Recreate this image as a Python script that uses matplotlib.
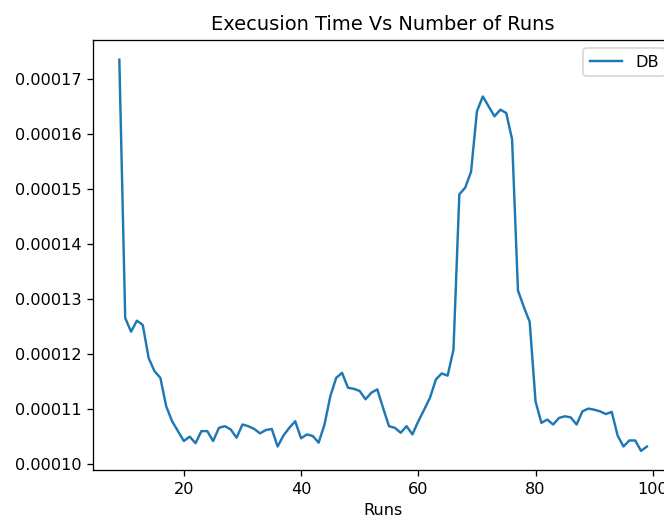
#!/usr/bin/env python3

import numpy as np
import matplotlib
matplotlib.use("Agg")
import matplotlib.pyplot as plt

# number of runs on the x axis
runs = list(range(9, 100))

# execution time (seconds) for each run count
db_times = [
    0.0001736, 0.0001266, 0.0001241, 0.0001261, 0.0001253, 0.0001193, 0.0001169,
    0.0001157, 0.0001105, 0.0001078, 0.0001060, 0.0001042, 0.0001050, 0.0001038,
    0.0001060, 0.0001060, 0.0001042, 0.0001066, 0.0001069, 0.0001063, 0.0001048,
    0.0001072, 0.0001069, 0.0001064, 0.0001056, 0.0001062, 0.0001064, 0.0001032,
    0.0001052, 0.0001066, 0.0001078, 0.0001047, 0.0001054, 0.0001051, 0.0001039,
    0.0001072, 0.0001124, 0.0001157, 0.0001166, 0.0001139, 0.0001137, 0.0001133,
    0.0001118, 0.0001130, 0.0001136, 0.0001102, 0.0001069, 0.0001066, 0.0001057,
    0.0001069, 0.0001054, 0.0001078, 0.0001099, 0.0001121, 0.0001154, 0.0001165,
    0.0001161, 0.0001208, 0.0001491, 0.0001503, 0.0001532, 0.0001642, 0.0001669,
    0.0001651, 0.0001633, 0.0001645, 0.0001639, 0.0001591, 0.0001316, 0.0001286,
    0.0001259, 0.0001114, 0.0001075, 0.0001081, 0.0001072, 0.0001084, 0.0001087,
    0.0001085, 0.0001072, 0.0001096, 0.0001101, 0.0001099, 0.0001096, 0.0001091,
    0.0001095, 0.0001052, 0.0001032, 0.0001043, 0.0001043, 0.0001024, 0.0001032,
]

dpi = 116.5
fig = plt.figure(figsize=(664 / dpi, 521 / dpi), dpi=dpi)
# the plot area runs a little past the right edge of the saved image
ax = fig.add_axes([0.140, 0.097, 0.874, 0.826])

ax.plot(runs, db_times, color="#1f77b4", label="DB")
ax.set_xlabel("Runs")
ax.set_title("Execusion Time Vs Number of Runs")
ax.legend(loc="upper right")

fig.savefig("out.png", dpi=dpi)
